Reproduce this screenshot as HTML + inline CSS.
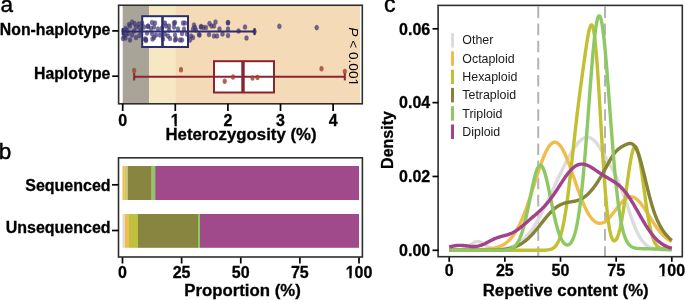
<!DOCTYPE html>
<html><head><meta charset="utf-8"><style>
html,body{margin:0;padding:0;background:#fff;}
svg{display:block;font-family:"Liberation Sans", sans-serif;will-change:transform;}
</style></head><body>
<svg width="685" height="300" viewBox="0 0 685 300">
<rect x="118.5" y="5.5" width="244" height="98" fill="#fff"/>
<rect x="122.70" y="5.5" width="26.30" height="98" fill="#a8a598"/>
<rect x="149.00" y="5.5" width="26.30" height="98" fill="#f5e8c3"/>
<rect x="175.30" y="5.5" width="184.70" height="98" fill="#f5dab8"/>
<rect x="142.2" y="16.2" width="45.80000000000001" height="30.8" fill="#fff"/>
<ellipse cx="132.0" cy="22.0" rx="2.0" ry="2.6" fill="#3f3472" fill-opacity="0.72" stroke="#3f3472" stroke-opacity="0.35" stroke-width="0.7"/>
<ellipse cx="134.5" cy="23.5" rx="2.0" ry="2.6" fill="#3f3472" fill-opacity="0.72" stroke="#3f3472" stroke-opacity="0.35" stroke-width="0.7"/>
<ellipse cx="138.5" cy="24.0" rx="2.0" ry="2.6" fill="#3f3472" fill-opacity="0.72" stroke="#3f3472" stroke-opacity="0.35" stroke-width="0.7"/>
<ellipse cx="130.0" cy="26.0" rx="2.0" ry="2.6" fill="#3f3472" fill-opacity="0.72" stroke="#3f3472" stroke-opacity="0.35" stroke-width="0.7"/>
<ellipse cx="136.0" cy="27.0" rx="2.0" ry="2.6" fill="#3f3472" fill-opacity="0.72" stroke="#3f3472" stroke-opacity="0.35" stroke-width="0.7"/>
<ellipse cx="139.5" cy="27.5" rx="2.0" ry="2.6" fill="#3f3472" fill-opacity="0.72" stroke="#3f3472" stroke-opacity="0.35" stroke-width="0.7"/>
<ellipse cx="125.5" cy="28.5" rx="2.0" ry="2.6" fill="#3f3472" fill-opacity="0.72" stroke="#3f3472" stroke-opacity="0.35" stroke-width="0.7"/>
<ellipse cx="123.5" cy="31.0" rx="2.0" ry="2.6" fill="#3f3472" fill-opacity="0.72" stroke="#3f3472" stroke-opacity="0.35" stroke-width="0.7"/>
<ellipse cx="128.0" cy="33.5" rx="2.0" ry="2.6" fill="#3f3472" fill-opacity="0.72" stroke="#3f3472" stroke-opacity="0.35" stroke-width="0.7"/>
<ellipse cx="124.0" cy="36.0" rx="2.0" ry="2.6" fill="#3f3472" fill-opacity="0.72" stroke="#3f3472" stroke-opacity="0.35" stroke-width="0.7"/>
<ellipse cx="123.0" cy="38.5" rx="2.0" ry="2.6" fill="#3f3472" fill-opacity="0.72" stroke="#3f3472" stroke-opacity="0.35" stroke-width="0.7"/>
<ellipse cx="125.5" cy="38.0" rx="2.0" ry="2.6" fill="#3f3472" fill-opacity="0.72" stroke="#3f3472" stroke-opacity="0.35" stroke-width="0.7"/>
<ellipse cx="130.0" cy="40.0" rx="2.0" ry="2.6" fill="#3f3472" fill-opacity="0.72" stroke="#3f3472" stroke-opacity="0.35" stroke-width="0.7"/>
<ellipse cx="136.0" cy="37.5" rx="2.0" ry="2.6" fill="#3f3472" fill-opacity="0.72" stroke="#3f3472" stroke-opacity="0.35" stroke-width="0.7"/>
<ellipse cx="132.0" cy="35.0" rx="2.0" ry="2.6" fill="#3f3472" fill-opacity="0.72" stroke="#3f3472" stroke-opacity="0.35" stroke-width="0.7"/>
<ellipse cx="139.5" cy="35.5" rx="2.0" ry="2.6" fill="#3f3472" fill-opacity="0.72" stroke="#3f3472" stroke-opacity="0.35" stroke-width="0.7"/>
<ellipse cx="145.0" cy="39.0" rx="2.0" ry="2.6" fill="#3f3472" fill-opacity="0.72" stroke="#3f3472" stroke-opacity="0.35" stroke-width="0.7"/>
<ellipse cx="146.0" cy="40.5" rx="2.0" ry="2.6" fill="#3f3472" fill-opacity="0.72" stroke="#3f3472" stroke-opacity="0.35" stroke-width="0.7"/>
<ellipse cx="144.0" cy="27.0" rx="2.0" ry="2.6" fill="#3f3472" fill-opacity="0.72" stroke="#3f3472" stroke-opacity="0.35" stroke-width="0.7"/>
<ellipse cx="148.0" cy="26.0" rx="2.0" ry="2.6" fill="#3f3472" fill-opacity="0.72" stroke="#3f3472" stroke-opacity="0.35" stroke-width="0.7"/>
<ellipse cx="141.0" cy="31.0" rx="2.0" ry="2.6" fill="#3f3472" fill-opacity="0.72" stroke="#3f3472" stroke-opacity="0.35" stroke-width="0.7"/>
<ellipse cx="127.0" cy="30.0" rx="2.0" ry="2.6" fill="#3f3472" fill-opacity="0.72" stroke="#3f3472" stroke-opacity="0.35" stroke-width="0.7"/>
<ellipse cx="134.0" cy="31.0" rx="2.0" ry="2.6" fill="#3f3472" fill-opacity="0.72" stroke="#3f3472" stroke-opacity="0.35" stroke-width="0.7"/>
<ellipse cx="129.0" cy="24.5" rx="2.0" ry="2.6" fill="#3f3472" fill-opacity="0.72" stroke="#3f3472" stroke-opacity="0.35" stroke-width="0.7"/>
<ellipse cx="142.0" cy="23.0" rx="2.0" ry="2.6" fill="#3f3472" fill-opacity="0.72" stroke="#3f3472" stroke-opacity="0.35" stroke-width="0.7"/>
<ellipse cx="126.0" cy="34.0" rx="2.0" ry="2.6" fill="#3f3472" fill-opacity="0.72" stroke="#3f3472" stroke-opacity="0.35" stroke-width="0.7"/>
<ellipse cx="152.0" cy="22.5" rx="2.0" ry="2.6" fill="#3f3472" fill-opacity="0.72" stroke="#3f3472" stroke-opacity="0.35" stroke-width="0.7"/>
<ellipse cx="155.0" cy="23.0" rx="2.0" ry="2.6" fill="#3f3472" fill-opacity="0.72" stroke="#3f3472" stroke-opacity="0.35" stroke-width="0.7"/>
<ellipse cx="148.0" cy="26.5" rx="2.0" ry="2.6" fill="#3f3472" fill-opacity="0.72" stroke="#3f3472" stroke-opacity="0.35" stroke-width="0.7"/>
<ellipse cx="154.0" cy="27.0" rx="2.0" ry="2.6" fill="#3f3472" fill-opacity="0.72" stroke="#3f3472" stroke-opacity="0.35" stroke-width="0.7"/>
<ellipse cx="151.0" cy="28.5" rx="2.0" ry="2.6" fill="#3f3472" fill-opacity="0.72" stroke="#3f3472" stroke-opacity="0.35" stroke-width="0.7"/>
<ellipse cx="158.0" cy="29.0" rx="2.0" ry="2.6" fill="#3f3472" fill-opacity="0.72" stroke="#3f3472" stroke-opacity="0.35" stroke-width="0.7"/>
<ellipse cx="147.0" cy="33.0" rx="2.0" ry="2.6" fill="#3f3472" fill-opacity="0.72" stroke="#3f3472" stroke-opacity="0.35" stroke-width="0.7"/>
<ellipse cx="152.0" cy="33.5" rx="2.0" ry="2.6" fill="#3f3472" fill-opacity="0.72" stroke="#3f3472" stroke-opacity="0.35" stroke-width="0.7"/>
<ellipse cx="156.0" cy="35.0" rx="2.0" ry="2.6" fill="#3f3472" fill-opacity="0.72" stroke="#3f3472" stroke-opacity="0.35" stroke-width="0.7"/>
<ellipse cx="154.0" cy="37.5" rx="2.0" ry="2.6" fill="#3f3472" fill-opacity="0.72" stroke="#3f3472" stroke-opacity="0.35" stroke-width="0.7"/>
<ellipse cx="152.5" cy="39.0" rx="2.0" ry="2.6" fill="#3f3472" fill-opacity="0.72" stroke="#3f3472" stroke-opacity="0.35" stroke-width="0.7"/>
<ellipse cx="146.0" cy="39.5" rx="2.0" ry="2.6" fill="#3f3472" fill-opacity="0.72" stroke="#3f3472" stroke-opacity="0.35" stroke-width="0.7"/>
<ellipse cx="165.0" cy="23.0" rx="2.0" ry="2.6" fill="#3f3472" fill-opacity="0.72" stroke="#3f3472" stroke-opacity="0.35" stroke-width="0.7"/>
<ellipse cx="166.0" cy="26.0" rx="2.0" ry="2.6" fill="#3f3472" fill-opacity="0.72" stroke="#3f3472" stroke-opacity="0.35" stroke-width="0.7"/>
<ellipse cx="169.0" cy="26.0" rx="2.0" ry="2.6" fill="#3f3472" fill-opacity="0.72" stroke="#3f3472" stroke-opacity="0.35" stroke-width="0.7"/>
<ellipse cx="174.0" cy="23.0" rx="2.0" ry="2.6" fill="#3f3472" fill-opacity="0.72" stroke="#3f3472" stroke-opacity="0.35" stroke-width="0.7"/>
<ellipse cx="174.0" cy="27.0" rx="2.0" ry="2.6" fill="#3f3472" fill-opacity="0.72" stroke="#3f3472" stroke-opacity="0.35" stroke-width="0.7"/>
<ellipse cx="169.0" cy="30.0" rx="2.0" ry="2.6" fill="#3f3472" fill-opacity="0.72" stroke="#3f3472" stroke-opacity="0.35" stroke-width="0.7"/>
<ellipse cx="165.0" cy="34.0" rx="2.0" ry="2.6" fill="#3f3472" fill-opacity="0.72" stroke="#3f3472" stroke-opacity="0.35" stroke-width="0.7"/>
<ellipse cx="168.0" cy="36.0" rx="2.0" ry="2.6" fill="#3f3472" fill-opacity="0.72" stroke="#3f3472" stroke-opacity="0.35" stroke-width="0.7"/>
<ellipse cx="170.0" cy="38.5" rx="2.0" ry="2.6" fill="#3f3472" fill-opacity="0.72" stroke="#3f3472" stroke-opacity="0.35" stroke-width="0.7"/>
<ellipse cx="175.0" cy="40.0" rx="2.0" ry="2.6" fill="#3f3472" fill-opacity="0.72" stroke="#3f3472" stroke-opacity="0.35" stroke-width="0.7"/>
<ellipse cx="162.0" cy="28.0" rx="2.0" ry="2.6" fill="#3f3472" fill-opacity="0.72" stroke="#3f3472" stroke-opacity="0.35" stroke-width="0.7"/>
<ellipse cx="160.0" cy="35.0" rx="2.0" ry="2.6" fill="#3f3472" fill-opacity="0.72" stroke="#3f3472" stroke-opacity="0.35" stroke-width="0.7"/>
<ellipse cx="163.0" cy="39.0" rx="2.0" ry="2.6" fill="#3f3472" fill-opacity="0.72" stroke="#3f3472" stroke-opacity="0.35" stroke-width="0.7"/>
<ellipse cx="175.0" cy="22.5" rx="2.0" ry="2.6" fill="#3f3472" fill-opacity="0.72" stroke="#3f3472" stroke-opacity="0.35" stroke-width="0.7"/>
<ellipse cx="183.0" cy="23.0" rx="2.0" ry="2.6" fill="#3f3472" fill-opacity="0.72" stroke="#3f3472" stroke-opacity="0.35" stroke-width="0.7"/>
<ellipse cx="185.0" cy="23.0" rx="2.0" ry="2.6" fill="#3f3472" fill-opacity="0.72" stroke="#3f3472" stroke-opacity="0.35" stroke-width="0.7"/>
<ellipse cx="184.0" cy="29.0" rx="2.0" ry="2.6" fill="#3f3472" fill-opacity="0.72" stroke="#3f3472" stroke-opacity="0.35" stroke-width="0.7"/>
<ellipse cx="175.0" cy="35.0" rx="2.0" ry="2.6" fill="#3f3472" fill-opacity="0.72" stroke="#3f3472" stroke-opacity="0.35" stroke-width="0.7"/>
<ellipse cx="176.0" cy="39.0" rx="2.0" ry="2.6" fill="#3f3472" fill-opacity="0.72" stroke="#3f3472" stroke-opacity="0.35" stroke-width="0.7"/>
<ellipse cx="180.0" cy="40.0" rx="2.0" ry="2.6" fill="#3f3472" fill-opacity="0.72" stroke="#3f3472" stroke-opacity="0.35" stroke-width="0.7"/>
<ellipse cx="182.0" cy="40.0" rx="2.0" ry="2.6" fill="#3f3472" fill-opacity="0.72" stroke="#3f3472" stroke-opacity="0.35" stroke-width="0.7"/>
<ellipse cx="182.0" cy="33.5" rx="2.0" ry="2.6" fill="#3f3472" fill-opacity="0.72" stroke="#3f3472" stroke-opacity="0.35" stroke-width="0.7"/>
<ellipse cx="187.0" cy="34.0" rx="2.0" ry="2.6" fill="#3f3472" fill-opacity="0.72" stroke="#3f3472" stroke-opacity="0.35" stroke-width="0.7"/>
<ellipse cx="191.0" cy="36.0" rx="2.0" ry="2.6" fill="#3f3472" fill-opacity="0.72" stroke="#3f3472" stroke-opacity="0.35" stroke-width="0.7"/>
<ellipse cx="193.0" cy="37.5" rx="2.0" ry="2.6" fill="#3f3472" fill-opacity="0.72" stroke="#3f3472" stroke-opacity="0.35" stroke-width="0.7"/>
<ellipse cx="194.0" cy="25.0" rx="2.0" ry="2.6" fill="#3f3472" fill-opacity="0.72" stroke="#3f3472" stroke-opacity="0.35" stroke-width="0.7"/>
<ellipse cx="195.0" cy="27.5" rx="2.0" ry="2.6" fill="#3f3472" fill-opacity="0.72" stroke="#3f3472" stroke-opacity="0.35" stroke-width="0.7"/>
<ellipse cx="193.0" cy="29.0" rx="2.0" ry="2.6" fill="#3f3472" fill-opacity="0.72" stroke="#3f3472" stroke-opacity="0.35" stroke-width="0.7"/>
<ellipse cx="196.0" cy="30.0" rx="2.0" ry="2.6" fill="#3f3472" fill-opacity="0.72" stroke="#3f3472" stroke-opacity="0.35" stroke-width="0.7"/>
<ellipse cx="199.0" cy="34.5" rx="2.0" ry="2.6" fill="#3f3472" fill-opacity="0.72" stroke="#3f3472" stroke-opacity="0.35" stroke-width="0.7"/>
<ellipse cx="201.0" cy="27.0" rx="2.0" ry="2.6" fill="#3f3472" fill-opacity="0.72" stroke="#3f3472" stroke-opacity="0.35" stroke-width="0.7"/>
<ellipse cx="190.0" cy="40.0" rx="2.0" ry="2.6" fill="#3f3472" fill-opacity="0.72" stroke="#3f3472" stroke-opacity="0.35" stroke-width="0.7"/>
<ellipse cx="178.0" cy="29.0" rx="2.0" ry="2.6" fill="#3f3472" fill-opacity="0.72" stroke="#3f3472" stroke-opacity="0.35" stroke-width="0.7"/>
<ellipse cx="201.0" cy="26.5" rx="2.0" ry="2.6" fill="#3f3472" fill-opacity="0.72" stroke="#3f3472" stroke-opacity="0.35" stroke-width="0.7"/>
<ellipse cx="203.5" cy="27.5" rx="2.0" ry="2.6" fill="#3f3472" fill-opacity="0.72" stroke="#3f3472" stroke-opacity="0.35" stroke-width="0.7"/>
<ellipse cx="206.0" cy="27.5" rx="2.0" ry="2.6" fill="#3f3472" fill-opacity="0.72" stroke="#3f3472" stroke-opacity="0.35" stroke-width="0.7"/>
<ellipse cx="209.5" cy="23.5" rx="2.0" ry="2.6" fill="#3f3472" fill-opacity="0.72" stroke="#3f3472" stroke-opacity="0.35" stroke-width="0.7"/>
<ellipse cx="211.5" cy="26.0" rx="2.0" ry="2.6" fill="#3f3472" fill-opacity="0.72" stroke="#3f3472" stroke-opacity="0.35" stroke-width="0.7"/>
<ellipse cx="215.5" cy="22.0" rx="2.0" ry="2.6" fill="#3f3472" fill-opacity="0.72" stroke="#3f3472" stroke-opacity="0.35" stroke-width="0.7"/>
<ellipse cx="214.0" cy="26.0" rx="2.0" ry="2.6" fill="#3f3472" fill-opacity="0.72" stroke="#3f3472" stroke-opacity="0.35" stroke-width="0.7"/>
<ellipse cx="219.5" cy="29.0" rx="2.0" ry="2.6" fill="#3f3472" fill-opacity="0.72" stroke="#3f3472" stroke-opacity="0.35" stroke-width="0.7"/>
<ellipse cx="199.5" cy="35.0" rx="2.0" ry="2.6" fill="#3f3472" fill-opacity="0.72" stroke="#3f3472" stroke-opacity="0.35" stroke-width="0.7"/>
<ellipse cx="209.0" cy="34.5" rx="2.0" ry="2.6" fill="#3f3472" fill-opacity="0.72" stroke="#3f3472" stroke-opacity="0.35" stroke-width="0.7"/>
<ellipse cx="214.0" cy="36.0" rx="2.0" ry="2.6" fill="#3f3472" fill-opacity="0.72" stroke="#3f3472" stroke-opacity="0.35" stroke-width="0.7"/>
<ellipse cx="217.0" cy="36.0" rx="2.0" ry="2.6" fill="#3f3472" fill-opacity="0.72" stroke="#3f3472" stroke-opacity="0.35" stroke-width="0.7"/>
<ellipse cx="222.5" cy="34.0" rx="2.0" ry="2.6" fill="#3f3472" fill-opacity="0.72" stroke="#3f3472" stroke-opacity="0.35" stroke-width="0.7"/>
<ellipse cx="228.0" cy="22.5" rx="2.0" ry="2.6" fill="#3f3472" fill-opacity="0.72" stroke="#3f3472" stroke-opacity="0.35" stroke-width="0.7"/>
<ellipse cx="228.0" cy="22.8" rx="2.0" ry="2.6" fill="#3f3472" fill-opacity="0.72" stroke="#3f3472" stroke-opacity="0.35" stroke-width="0.7"/>
<ellipse cx="228.0" cy="29.0" rx="2.0" ry="2.6" fill="#3f3472" fill-opacity="0.72" stroke="#3f3472" stroke-opacity="0.35" stroke-width="0.7"/>
<ellipse cx="228.0" cy="35.5" rx="2.0" ry="2.6" fill="#3f3472" fill-opacity="0.72" stroke="#3f3472" stroke-opacity="0.35" stroke-width="0.7"/>
<ellipse cx="238.5" cy="31.0" rx="2.0" ry="2.6" fill="#3f3472" fill-opacity="0.72" stroke="#3f3472" stroke-opacity="0.35" stroke-width="0.7"/>
<ellipse cx="245.0" cy="27.0" rx="2.0" ry="2.6" fill="#3f3472" fill-opacity="0.72" stroke="#3f3472" stroke-opacity="0.35" stroke-width="0.7"/>
<ellipse cx="246.5" cy="38.0" rx="2.0" ry="2.6" fill="#3f3472" fill-opacity="0.72" stroke="#3f3472" stroke-opacity="0.35" stroke-width="0.7"/>
<ellipse cx="254.5" cy="31.5" rx="2.0" ry="2.6" fill="#3f3472" fill-opacity="0.72" stroke="#3f3472" stroke-opacity="0.35" stroke-width="0.7"/>
<ellipse cx="279.4" cy="26.3" rx="2.0" ry="2.6" fill="#3f3472" fill-opacity="0.72" stroke="#3f3472" stroke-opacity="0.35" stroke-width="0.7"/>
<ellipse cx="316.7" cy="27.6" rx="2.0" ry="2.6" fill="#3f3472" fill-opacity="0.72" stroke="#3f3472" stroke-opacity="0.35" stroke-width="0.7"/>
<g stroke="#2e2c6e" stroke-width="2" fill="none">
<line x1="122.7" y1="31.6" x2="254.6" y2="31.6"/>
<line x1="122.7" y1="28.1" x2="122.7" y2="35.1"/>
<line x1="254.6" y1="28.1" x2="254.6" y2="35.1"/>
<rect x="142.2" y="16.2" width="45.80000000000001" height="30.8"/>
<line x1="162.5" y1="16.2" x2="162.5" y2="47" stroke-width="2.6"/>
</g>
<rect x="214" y="61.2" width="60" height="31.299999999999997" fill="#fff"/>
<g stroke="#8a2430" stroke-width="2" fill="none">
<line x1="134.2" y1="76.7" x2="344.8" y2="76.7"/>
<line x1="134.2" y1="73.0" x2="134.2" y2="80.4"/>
<line x1="344.8" y1="73.0" x2="344.8" y2="80.4"/>
<rect x="214" y="61.2" width="60" height="31.299999999999997"/>
<line x1="243.0" y1="61.2" x2="243.0" y2="92.5" stroke-width="3.4"/>
</g>
<ellipse cx="134.2" cy="70.6" rx="2.05" ry="2.75" fill="#a3422f" fill-opacity="0.82"/>
<ellipse cx="181" cy="69.7" rx="2.05" ry="2.75" fill="#a3422f" fill-opacity="0.82"/>
<ellipse cx="224.7" cy="81.2" rx="2.05" ry="2.75" fill="#a3422f" fill-opacity="0.82"/>
<ellipse cx="233" cy="77" rx="2.05" ry="2.75" fill="#a3422f" fill-opacity="0.82"/>
<ellipse cx="252.5" cy="78" rx="2.05" ry="2.75" fill="#a3422f" fill-opacity="0.82"/>
<ellipse cx="257.5" cy="77.5" rx="2.05" ry="2.75" fill="#a3422f" fill-opacity="0.82"/>
<ellipse cx="321.5" cy="68.8" rx="2.05" ry="2.75" fill="#a3422f" fill-opacity="0.82"/>
<ellipse cx="344.8" cy="71.5" rx="2.05" ry="2.75" fill="#a3422f" fill-opacity="0.82"/>
<rect x="118.6" y="5.25" width="243.7" height="98.55" fill="none" stroke="#2e2e2e" stroke-width="1.6"/>
<g transform="translate(349.4,27.2) rotate(90)">
<text x="0" y="0" font-size="13.7" font-weight="normal"><tspan font-style="italic">P</tspan> &lt; 0.001</text>
<rect x="51.46" y="-1.37" width="3.40" height="2.42" fill="#f5dab8"/>
<rect x="56.07" y="-1.37" width="2.89" height="2.42" fill="#f5dab8"/>
</g>
<g stroke="#000" stroke-width="1.7">
<line x1="112.2" y1="30.9" x2="118.6" y2="30.9"/><line x1="112.2" y1="76.2" x2="118.6" y2="76.2"/>
<line x1="122.70" y1="103.8" x2="122.70" y2="111"/>
<line x1="175.30" y1="103.8" x2="175.30" y2="111"/>
<line x1="227.90" y1="103.8" x2="227.90" y2="111"/>
<line x1="280.50" y1="103.8" x2="280.50" y2="111"/>
<line x1="333.10" y1="103.8" x2="333.10" y2="111"/>
</g>
<text x="110.4" y="34.6" font-size="15.8" font-weight="bold" text-anchor="end" fill="#000" stroke="#000" stroke-width="0.3" >Non-haplotype</text>
<text x="110.4" y="78.6" font-size="15.8" font-weight="bold" text-anchor="end" fill="#000" stroke="#000" stroke-width="0.3" >Haplotype</text>
<text x="122.7" y="125.8" font-size="16" font-weight="bold" text-anchor="middle" fill="#000" stroke="#000" stroke-width="0.3" >0</text>
<text x="175.3" y="125.8" font-size="16" font-weight="bold" text-anchor="middle" fill="#000" stroke="#000" stroke-width="0.3" >1</text>
<rect x="170.86" y="123.82" width="3.73" height="3.03" fill="#fff"/>
<rect x="176.78" y="123.82" width="3.12" height="3.03" fill="#fff"/>
<text x="227.9" y="125.8" font-size="16" font-weight="bold" text-anchor="middle" fill="#000" stroke="#000" stroke-width="0.3" >2</text>
<text x="280.5" y="125.8" font-size="16" font-weight="bold" text-anchor="middle" fill="#000" stroke="#000" stroke-width="0.3" >3</text>
<text x="333.1" y="125.8" font-size="16" font-weight="bold" text-anchor="middle" fill="#000" stroke="#000" stroke-width="0.3" >4</text>
<text x="241" y="140" font-size="16.8" font-weight="bold" text-anchor="middle" fill="#000" stroke="#000" stroke-width="0.3" >Heterozygosity (%)</text>
<text x="0.5" y="12.0" font-size="22.5" font-weight="normal" text-anchor="start" fill="#000" stroke="#000" stroke-width="0.45">a</text>
<rect x="122.50" y="166" width="2.25" height="34" fill="#f0bd4c"/>
<rect x="124.75" y="166" width="3.00" height="34" fill="#c9c86c"/>
<rect x="127.75" y="166" width="23.95" height="34" fill="#878540"/>
<rect x="151.70" y="166" width="3.50" height="34" fill="#8dc863"/>
<rect x="155.20" y="166" width="203.80" height="34" fill="#a04a8c"/>
<rect x="122.50" y="214" width="2.30" height="33.80000000000001" fill="#dcdce0"/>
<rect x="124.80" y="214" width="4.20" height="33.80000000000001" fill="#f0bd50"/>
<rect x="129.00" y="214" width="9.00" height="33.80000000000001" fill="#c0c040"/>
<rect x="138.00" y="214" width="60.00" height="33.80000000000001" fill="#878540"/>
<rect x="198.00" y="214" width="2.00" height="33.80000000000001" fill="#8dc863"/>
<rect x="200.00" y="214" width="159.00" height="33.80000000000001" fill="#a04a8c"/>
<rect x="118.5" y="157.8" width="243.9" height="99.2" fill="none" stroke="#2e2e2e" stroke-width="1.6"/>
<g stroke="#000" stroke-width="1.7">
<line x1="112" y1="184.8" x2="118.5" y2="184.8"/><line x1="112" y1="230.5" x2="118.5" y2="230.5"/>
<line x1="122.50" y1="257.5" x2="122.50" y2="263.5"/>
<line x1="181.62" y1="257.5" x2="181.62" y2="263.5"/>
<line x1="240.75" y1="257.5" x2="240.75" y2="263.5"/>
<line x1="299.88" y1="257.5" x2="299.88" y2="263.5"/>
<line x1="359.00" y1="257.5" x2="359.00" y2="263.5"/>
</g>
<text x="110.6" y="190.6" font-size="16" font-weight="bold" text-anchor="end" fill="#000" stroke="#000" stroke-width="0.3" >Sequenced</text>
<text x="110.6" y="233.4" font-size="16" font-weight="bold" text-anchor="end" fill="#000" stroke="#000" stroke-width="0.3" >Unsequenced</text>
<text x="122.5" y="278" font-size="16" font-weight="bold" text-anchor="middle" fill="#000" stroke="#000" stroke-width="0.3" >0</text>
<text x="181.62" y="278" font-size="16" font-weight="bold" text-anchor="middle" fill="#000" stroke="#000" stroke-width="0.3" >25</text>
<text x="240.75" y="278" font-size="16" font-weight="bold" text-anchor="middle" fill="#000" stroke="#000" stroke-width="0.3" >50</text>
<text x="299.88" y="278" font-size="16" font-weight="bold" text-anchor="middle" fill="#000" stroke="#000" stroke-width="0.3" >75</text>
<text x="359.0" y="278" font-size="16" font-weight="bold" text-anchor="middle" fill="#000" stroke="#000" stroke-width="0.3" >100</text>
<rect x="345.66" y="276.02" width="3.73" height="3.03" fill="#fff"/>
<rect x="351.58" y="276.02" width="3.12" height="3.03" fill="#fff"/>
<text x="242.5" y="296" font-size="16.8" font-weight="bold" text-anchor="middle" fill="#000" stroke="#000" stroke-width="0.3" >Proportion (%)</text>
<text x="-1.2" y="159" font-size="22.5" font-weight="normal" text-anchor="start" fill="#000" stroke="#000" stroke-width="0.45">b</text>
<g stroke="#b4b4b4" stroke-width="2" stroke-dasharray="11.6 5.53">
<line x1="538.24" y1="6.4" x2="538.24" y2="256"/><line x1="605.02" y1="6.4" x2="605.02" y2="256"/>
</g>
<polyline points="449.20,250.29 449.76,250.29 450.31,250.29 450.87,250.28 451.43,250.28 451.98,250.27 452.54,250.26 453.10,250.25 453.65,250.24 454.21,250.23 454.76,250.21 455.32,250.19 455.88,250.16 456.43,250.13 456.99,250.09 457.55,250.04 458.10,249.99 458.66,249.92 459.22,249.85 459.77,249.76 460.33,249.66 460.89,249.55 461.44,249.42 462.00,249.27 462.56,249.11 463.11,248.92 463.67,248.72 464.23,248.49 464.78,248.25 465.34,247.98 465.89,247.69 466.45,247.38 467.01,247.06 467.56,246.71 468.12,246.35 468.68,245.98 469.23,245.60 469.79,245.22 470.35,244.83 470.90,244.44 471.46,244.06 472.02,243.68 472.57,243.33 473.13,242.99 473.69,242.68 474.24,242.40 474.80,242.15 475.36,241.94 475.91,241.77 476.47,241.64 477.02,241.56 477.58,241.52 478.14,241.53 478.69,241.58 479.25,241.69 479.81,241.83 480.36,242.02 480.92,242.24 481.48,242.50 482.03,242.80 482.59,243.11 483.15,243.45 483.70,243.81 484.26,244.18 484.82,244.56 485.37,244.94 485.93,245.32 486.49,245.69 487.04,246.06 487.60,246.41 488.15,246.75 488.71,247.07 489.27,247.37 489.82,247.66 490.38,247.91 490.94,248.15 491.49,248.37 492.05,248.56 492.61,248.73 493.16,248.88 493.72,249.01 494.28,249.12 494.83,249.21 495.39,249.28 495.95,249.34 496.50,249.38 497.06,249.41 497.62,249.42 498.17,249.42 498.73,249.41 499.28,249.39 499.84,249.37 500.40,249.33 500.95,249.28 501.51,249.23 502.07,249.16 502.62,249.09 503.18,249.02 503.74,248.93 504.29,248.84 504.85,248.74 505.41,248.64 505.96,248.52 506.52,248.40 507.08,248.27 507.63,248.14 508.19,247.99 508.75,247.84 509.30,247.68 509.86,247.51 510.41,247.33 510.97,247.14 511.53,246.94 512.08,246.73 512.64,246.51 513.20,246.28 513.75,246.03 514.31,245.78 514.87,245.51 515.42,245.23 515.98,244.94 516.54,244.63 517.09,244.31 517.65,243.97 518.21,243.62 518.76,243.26 519.32,242.88 519.88,242.49 520.43,242.07 520.99,241.65 521.54,241.20 522.10,240.74 522.66,240.27 523.21,239.77 523.77,239.26 524.33,238.73 524.88,238.18 525.44,237.62 526.00,237.03 526.55,236.43 527.11,235.81 527.67,235.17 528.22,234.51 528.78,233.83 529.34,233.13 529.89,232.41 530.45,231.68 531.01,230.92 531.56,230.15 532.12,229.36 532.67,228.55 533.23,227.72 533.79,226.87 534.34,226.01 534.90,225.13 535.46,224.23 536.01,223.31 536.57,222.37 537.13,221.42 537.68,220.46 538.24,219.47 538.80,218.48 539.35,217.46 539.91,216.44 540.47,215.40 541.02,214.34 541.58,213.27 542.14,212.19 542.69,211.10 543.25,210.00 543.80,208.89 544.36,207.76 544.92,206.63 545.47,205.49 546.03,204.34 546.59,203.18 547.14,202.02 547.70,200.85 548.26,199.67 548.81,198.49 549.37,197.30 549.93,196.11 550.48,194.92 551.04,193.72 551.60,192.52 552.15,191.32 552.71,190.12 553.27,188.91 553.82,187.71 554.38,186.51 554.93,185.31 555.49,184.11 556.05,182.91 556.60,181.71 557.16,180.52 557.72,179.33 558.27,178.15 558.83,176.97 559.39,175.79 559.94,174.62 560.50,173.46 561.06,172.30 561.61,171.15 562.17,170.01 562.73,168.87 563.28,167.74 563.84,166.62 564.40,165.51 564.95,164.41 565.51,163.32 566.06,162.24 566.62,161.18 567.18,160.12 567.73,159.08 568.29,158.05 568.85,157.03 569.40,156.03 569.96,155.04 570.52,154.07 571.07,153.12 571.63,152.19 572.19,151.27 572.74,150.37 573.30,149.50 573.86,148.64 574.41,147.81 574.97,147.00 575.53,146.21 576.08,145.45 576.64,144.72 577.19,144.02 577.75,143.34 578.31,142.69 578.86,142.08 579.42,141.49 579.98,140.94 580.53,140.42 581.09,139.94 581.65,139.50 582.20,139.09 582.76,138.72 583.32,138.39 583.87,138.10 584.43,137.85 584.99,137.65 585.54,137.48 586.10,137.36 586.66,137.29 587.21,137.26 587.77,137.27 588.32,137.33 588.88,137.43 589.44,137.58 589.99,137.78 590.55,138.02 591.11,138.30 591.66,138.63 592.22,139.01 592.78,139.42 593.33,139.88 593.89,140.38 594.45,140.92 595.00,141.50 595.56,142.11 596.12,142.76 596.67,143.44 597.23,144.16 597.79,144.90 598.34,145.68 598.90,146.47 599.45,147.30 600.01,148.14 600.57,149.00 601.12,149.88 601.68,150.78 602.24,151.69 602.79,152.61 603.35,153.54 603.91,154.48 604.46,155.42 605.02,156.37 605.58,157.33 606.13,158.28 606.69,159.25 607.25,160.21 607.80,161.17 608.36,162.14 608.92,163.11 609.47,164.09 610.03,165.07 610.58,166.05 611.14,167.04 611.70,168.04 612.25,169.05 612.81,170.08 613.37,171.11 613.92,172.17 614.48,173.24 615.04,174.33 615.59,175.44 616.15,176.58 616.71,177.74 617.26,178.94 617.82,180.16 618.38,181.41 618.93,182.70 619.49,184.02 620.05,185.37 620.60,186.76 621.16,188.17 621.71,189.62 622.27,191.11 622.83,192.62 623.38,194.16 623.94,195.73 624.50,197.32 625.05,198.93 625.61,200.56 626.17,202.20 626.72,203.86 627.28,205.52 627.84,207.19 628.39,208.85 628.95,210.51 629.51,212.17 630.06,213.81 630.62,215.43 631.18,217.03 631.73,218.61 632.29,220.16 632.84,221.68 633.40,223.17 633.96,224.61 634.51,226.02 635.07,227.39 635.63,228.71 636.18,229.99 636.74,231.22 637.30,232.40 637.85,233.53 638.41,234.62 638.97,235.65 639.52,236.63 640.08,237.57 640.64,238.45 641.19,239.29 641.75,240.08 642.31,240.83 642.86,241.53 643.42,242.19 643.97,242.81 644.53,243.38 645.09,243.92 645.64,244.42 646.20,244.89 646.76,245.32 647.31,245.72 647.87,246.10 648.43,246.44 648.98,246.76 649.54,247.06 650.10,247.33 650.65,247.58 651.21,247.81 651.77,248.02 652.32,248.21 652.88,248.39 653.44,248.56 653.99,248.71 654.55,248.84 655.10,248.97 655.66,249.09 656.22,249.19 656.77,249.29 657.33,249.38 657.89,249.46 658.44,249.53 659.00,249.60 659.56,249.66 660.11,249.72 660.67,249.77 661.23,249.82 661.78,249.86 662.34,249.90 662.90,249.94 663.45,249.97 664.01,250.00 664.57,250.03 665.12,250.05 665.68,250.08 666.23,250.10 666.79,250.11 667.35,250.13 667.90,250.15 668.46,250.16 669.02,250.18 669.57,250.19 670.13,250.20 670.69,250.21 671.24,250.22 671.80,250.23" fill="none" stroke="#dcdcdc" stroke-width="3.4" stroke-linejoin="round"/>
<polyline points="449.20,250.19 449.76,250.18 450.31,250.18 450.87,250.17 451.43,250.17 451.98,250.17 452.54,250.16 453.10,250.16 453.65,250.15 454.21,250.15 454.76,250.14 455.32,250.14 455.88,250.13 456.43,250.13 456.99,250.12 457.55,250.12 458.10,250.11 458.66,250.11 459.22,250.10 459.77,250.10 460.33,250.09 460.89,250.08 461.44,250.08 462.00,250.07 462.56,250.06 463.11,250.06 463.67,250.05 464.23,250.04 464.78,250.03 465.34,250.02 465.89,250.02 466.45,250.01 467.01,250.00 467.56,249.99 468.12,249.98 468.68,249.97 469.23,249.96 469.79,249.95 470.35,249.94 470.90,249.92 471.46,249.91 472.02,249.90 472.57,249.89 473.13,249.87 473.69,249.86 474.24,249.84 474.80,249.83 475.36,249.81 475.91,249.79 476.47,249.78 477.02,249.76 477.58,249.74 478.14,249.72 478.69,249.69 479.25,249.67 479.81,249.65 480.36,249.62 480.92,249.59 481.48,249.56 482.03,249.53 482.59,249.50 483.15,249.47 483.70,249.43 484.26,249.39 484.82,249.35 485.37,249.31 485.93,249.26 486.49,249.21 487.04,249.16 487.60,249.10 488.15,249.04 488.71,248.98 489.27,248.91 489.82,248.84 490.38,248.76 490.94,248.68 491.49,248.60 492.05,248.50 492.61,248.40 493.16,248.30 493.72,248.19 494.28,248.07 494.83,247.94 495.39,247.81 495.95,247.66 496.50,247.51 497.06,247.35 497.62,247.18 498.17,246.99 498.73,246.80 499.28,246.59 499.84,246.37 500.40,246.14 500.95,245.90 501.51,245.64 502.07,245.36 502.62,245.07 503.18,244.76 503.74,244.43 504.29,244.09 504.85,243.73 505.41,243.35 505.96,242.94 506.52,242.52 507.08,242.07 507.63,241.61 508.19,241.11 508.75,240.60 509.30,240.05 509.86,239.49 510.41,238.89 510.97,238.27 511.53,237.62 512.08,236.94 512.64,236.23 513.20,235.49 513.75,234.72 514.31,233.91 514.87,233.08 515.42,232.21 515.98,231.31 516.54,230.38 517.09,229.41 517.65,228.40 518.21,227.37 518.76,226.29 519.32,225.18 519.88,224.04 520.43,222.86 520.99,221.65 521.54,220.40 522.10,219.12 522.66,217.81 523.21,216.46 523.77,215.08 524.33,213.66 524.88,212.22 525.44,210.74 526.00,209.23 526.55,207.70 527.11,206.14 527.67,204.55 528.22,202.93 528.78,201.30 529.34,199.64 529.89,197.96 530.45,196.27 531.01,194.56 531.56,192.83 532.12,191.10 532.67,189.35 533.23,187.60 533.79,185.84 534.34,184.08 534.90,182.32 535.46,180.57 536.01,178.82 536.57,177.08 537.13,175.34 537.68,173.63 538.24,171.93 538.80,170.25 539.35,168.59 539.91,166.96 540.47,165.36 541.02,163.79 541.58,162.26 542.14,160.76 542.69,159.30 543.25,157.89 543.80,156.52 544.36,155.20 544.92,153.93 545.47,152.72 546.03,151.56 546.59,150.46 547.14,149.42 547.70,148.45 548.26,147.54 548.81,146.69 549.37,145.92 549.93,145.21 550.48,144.58 551.04,144.02 551.60,143.54 552.15,143.12 552.71,142.79 553.27,142.53 553.82,142.35 554.38,142.24 554.93,142.21 555.49,142.26 556.05,142.39 556.60,142.59 557.16,142.87 557.72,143.22 558.27,143.65 558.83,144.15 559.39,144.72 559.94,145.37 560.50,146.08 561.06,146.85 561.61,147.70 562.17,148.60 562.73,149.57 563.28,150.59 563.84,151.68 564.40,152.81 564.95,154.00 565.51,155.23 566.06,156.52 566.62,157.84 567.18,159.21 567.73,160.61 568.29,162.04 568.85,163.51 569.40,165.01 569.96,166.53 570.52,168.08 571.07,169.64 571.63,171.22 572.19,172.82 572.74,174.42 573.30,176.04 573.86,177.65 574.41,179.27 574.97,180.89 575.53,182.51 576.08,184.12 576.64,185.72 577.19,187.31 577.75,188.88 578.31,190.44 578.86,191.98 579.42,193.50 579.98,195.00 580.53,196.47 581.09,197.92 581.65,199.34 582.20,200.73 582.76,202.08 583.32,203.40 583.87,204.69 584.43,205.94 584.99,207.16 585.54,208.33 586.10,209.47 586.66,210.56 587.21,211.62 587.77,212.63 588.32,213.59 588.88,214.52 589.44,215.39 589.99,216.23 590.55,217.02 591.11,217.76 591.66,218.45 592.22,219.10 592.78,219.70 593.33,220.26 593.89,220.77 594.45,221.23 595.00,221.64 595.56,222.01 596.12,222.33 596.67,222.61 597.23,222.83 597.79,223.02 598.34,223.16 598.90,223.25 599.45,223.30 600.01,223.30 600.57,223.26 601.12,223.18 601.68,223.06 602.24,222.90 602.79,222.69 603.35,222.45 603.91,222.17 604.46,221.85 605.02,221.50 605.58,221.11 606.13,220.69 606.69,220.23 607.25,219.75 607.80,219.24 608.36,218.69 608.92,218.13 609.47,217.54 610.03,216.92 610.58,216.28 611.14,215.63 611.70,214.96 612.25,214.27 612.81,213.57 613.37,212.86 613.92,212.14 614.48,211.41 615.04,210.68 615.59,209.94 616.15,209.21 616.71,208.47 617.26,207.74 617.82,207.02 618.38,206.30 618.93,205.60 619.49,204.91 620.05,204.23 620.60,203.57 621.16,202.94 621.71,202.32 622.27,201.73 622.83,201.16 623.38,200.62 623.94,200.11 624.50,199.63 625.05,199.19 625.61,198.78 626.17,198.40 626.72,198.07 627.28,197.77 627.84,197.51 628.39,197.29 628.95,197.12 629.51,196.99 630.06,196.90 630.62,196.85 631.18,196.85 631.73,196.89 632.29,196.98 632.84,197.11 633.40,197.29 633.96,197.51 634.51,197.77 635.07,198.07 635.63,198.42 636.18,198.81 636.74,199.24 637.30,199.70 637.85,200.21 638.41,200.75 638.97,201.32 639.52,201.93 640.08,202.57 640.64,203.24 641.19,203.94 641.75,204.67 642.31,205.42 642.86,206.19 643.42,206.99 643.97,207.80 644.53,208.63 645.09,209.48 645.64,210.34 646.20,211.21 646.76,212.09 647.31,212.98 647.87,213.87 648.43,214.77 648.98,215.67 649.54,216.57 650.10,217.47 650.65,218.37 651.21,219.26 651.77,220.14 652.32,221.02 652.88,221.89 653.44,222.75 653.99,223.59 654.55,224.43 655.10,225.25 655.66,226.06 656.22,226.85 656.77,227.62 657.33,228.38 657.89,229.12 658.44,229.85 659.00,230.55 659.56,231.24 660.11,231.90 660.67,232.55 661.23,233.18 661.78,233.79 662.34,234.38 662.90,234.95 663.45,235.50 664.01,236.03 664.57,236.54 665.12,237.03 665.68,237.51 666.23,237.96 666.79,238.40 667.35,238.82 667.90,239.22 668.46,239.61 669.02,239.98 669.57,240.33 670.13,240.67 670.69,240.99 671.24,241.30 671.80,241.59" fill="none" stroke="#f0bd4c" stroke-width="3.4" stroke-linejoin="round"/>
<polyline points="449.20,250.30 449.76,250.30 450.31,250.30 450.87,250.30 451.43,250.30 451.98,250.30 452.54,250.30 453.10,250.30 453.65,250.30 454.21,250.30 454.76,250.30 455.32,250.30 455.88,250.30 456.43,250.30 456.99,250.30 457.55,250.30 458.10,250.30 458.66,250.30 459.22,250.30 459.77,250.30 460.33,250.30 460.89,250.30 461.44,250.30 462.00,250.30 462.56,250.30 463.11,250.30 463.67,250.30 464.23,250.30 464.78,250.30 465.34,250.30 465.89,250.30 466.45,250.30 467.01,250.30 467.56,250.30 468.12,250.30 468.68,250.30 469.23,250.30 469.79,250.30 470.35,250.30 470.90,250.30 471.46,250.30 472.02,250.30 472.57,250.30 473.13,250.30 473.69,250.30 474.24,250.30 474.80,250.30 475.36,250.30 475.91,250.30 476.47,250.30 477.02,250.30 477.58,250.30 478.14,250.30 478.69,250.30 479.25,250.30 479.81,250.30 480.36,250.30 480.92,250.30 481.48,250.30 482.03,250.30 482.59,250.30 483.15,250.30 483.70,250.30 484.26,250.30 484.82,250.30 485.37,250.30 485.93,250.30 486.49,250.30 487.04,250.30 487.60,250.30 488.15,250.30 488.71,250.30 489.27,250.30 489.82,250.30 490.38,250.30 490.94,250.30 491.49,250.30 492.05,250.30 492.61,250.30 493.16,250.30 493.72,250.30 494.28,250.30 494.83,250.30 495.39,250.30 495.95,250.30 496.50,250.30 497.06,250.30 497.62,250.30 498.17,250.30 498.73,250.30 499.28,250.30 499.84,250.30 500.40,250.30 500.95,250.30 501.51,250.30 502.07,250.30 502.62,250.30 503.18,250.30 503.74,250.30 504.29,250.30 504.85,250.30 505.41,250.30 505.96,250.30 506.52,250.30 507.08,250.30 507.63,250.30 508.19,250.30 508.75,250.30 509.30,250.30 509.86,250.30 510.41,250.30 510.97,250.30 511.53,250.30 512.08,250.30 512.64,250.30 513.20,250.30 513.75,250.30 514.31,250.30 514.87,250.30 515.42,250.30 515.98,250.30 516.54,250.30 517.09,250.30 517.65,250.30 518.21,250.30 518.76,250.30 519.32,250.30 519.88,250.30 520.43,250.30 520.99,250.30 521.54,250.30 522.10,250.30 522.66,250.30 523.21,250.30 523.77,250.30 524.33,250.30 524.88,250.30 525.44,250.30 526.00,250.30 526.55,250.30 527.11,250.30 527.67,250.30 528.22,250.30 528.78,250.30 529.34,250.30 529.89,250.30 530.45,250.30 531.01,250.30 531.56,250.30 532.12,250.30 532.67,250.30 533.23,250.30 533.79,250.30 534.34,250.30 534.90,250.30 535.46,250.30 536.01,250.30 536.57,250.30 537.13,250.30 537.68,250.29 538.24,250.29 538.80,250.29 539.35,250.29 539.91,250.28 540.47,250.28 541.02,250.27 541.58,250.27 542.14,250.26 542.69,250.25 543.25,250.23 543.80,250.21 544.36,250.19 544.92,250.17 545.47,250.14 546.03,250.10 546.59,250.05 547.14,250.00 547.70,249.93 548.26,249.85 548.81,249.76 549.37,249.64 549.93,249.51 550.48,249.35 551.04,249.17 551.60,248.95 552.15,248.69 552.71,248.40 553.27,248.05 553.82,247.66 554.38,247.20 554.93,246.67 555.49,246.08 556.05,245.39 556.60,244.62 557.16,243.75 557.72,242.76 558.27,241.66 558.83,240.43 559.39,239.06 559.94,237.54 560.50,235.86 561.06,234.02 561.61,232.00 562.17,229.80 562.73,227.40 563.28,224.81 563.84,222.02 564.40,219.02 564.95,215.82 565.51,212.42 566.06,208.81 566.62,205.00 567.18,201.00 567.73,196.82 568.29,192.47 568.85,187.95 569.40,183.30 569.96,178.51 570.52,173.62 571.07,168.64 571.63,163.60 572.19,158.51 572.74,153.39 573.30,148.27 573.86,143.17 574.41,138.10 574.97,133.09 575.53,128.15 576.08,123.28 576.64,118.50 577.19,113.82 577.75,109.23 578.31,104.74 578.86,100.34 579.42,96.03 579.98,91.78 580.53,87.61 581.09,83.48 581.65,79.39 582.20,75.33 582.76,71.30 583.32,67.28 583.87,63.27 584.43,59.30 584.99,55.35 585.54,51.46 586.10,47.66 586.66,43.97 587.21,40.44 587.77,37.11 588.32,34.06 588.88,31.33 589.44,28.99 589.99,27.11 590.55,25.75 591.11,24.98 591.66,24.86 592.22,25.44 592.78,26.76 593.33,28.86 593.89,31.76 594.45,35.46 595.00,39.97 595.56,45.26 596.12,51.30 596.67,58.04 597.23,65.41 597.79,73.36 598.34,81.78 598.90,90.61 599.45,99.74 600.01,109.08 600.57,118.52 601.12,127.99 601.68,137.37 602.24,146.59 602.79,155.57 603.35,164.24 603.91,172.53 604.46,180.40 605.02,187.81 605.58,194.72 606.13,201.11 606.69,206.99 607.25,212.33 607.80,217.14 608.36,221.45 608.92,225.25 609.47,228.58 610.03,231.45 610.58,233.89 611.14,235.92 611.70,237.58 612.25,238.87 612.81,239.83 613.37,240.48 613.92,240.83 614.48,240.91 615.04,240.72 615.59,240.27 616.15,239.58 616.71,238.65 617.26,237.49 617.82,236.10 618.38,234.48 618.93,232.63 619.49,230.57 620.05,228.28 620.60,225.77 621.16,223.06 621.71,220.13 622.27,217.01 622.83,213.70 623.38,210.21 623.94,206.57 624.50,202.79 625.05,198.89 625.61,194.90 626.17,190.86 626.72,186.78 627.28,182.71 627.84,178.67 628.39,174.72 628.95,170.88 629.51,167.20 630.06,163.71 630.62,160.45 631.18,157.46 631.73,154.78 632.29,152.44 632.84,150.45 633.40,148.86 633.96,147.67 634.51,146.90 635.07,146.57 635.63,146.68 636.18,147.22 636.74,148.18 637.30,149.57 637.85,151.35 638.41,153.51 638.97,156.02 639.52,158.85 640.08,161.97 640.64,165.34 641.19,168.93 641.75,172.69 642.31,176.59 642.86,180.59 643.42,184.65 643.97,188.73 644.53,192.80 645.09,196.83 645.64,200.79 646.20,204.64 646.76,208.37 647.31,211.96 647.87,215.39 648.43,218.64 648.98,221.71 649.54,224.60 650.10,227.28 650.65,229.77 651.21,232.07 651.77,234.17 652.32,236.09 652.88,237.83 653.44,239.39 653.99,240.79 654.55,242.04 655.10,243.14 655.66,244.11 656.22,244.95 656.77,245.67 657.33,246.29 657.89,246.82 658.44,247.25 659.00,247.61 659.56,247.90 660.11,248.13 660.67,248.30 661.23,248.43 661.78,248.52 662.34,248.57 662.90,248.60 663.45,248.60 664.01,248.60 664.57,248.58 665.12,248.56 665.68,248.54 666.23,248.52 666.79,248.51 667.35,248.51 667.90,248.52 668.46,248.55 669.02,248.58 669.57,248.64 670.13,248.70 670.69,248.77 671.24,248.86 671.80,248.95" fill="none" stroke="#c2c032" stroke-width="3.4" stroke-linejoin="round"/>
<polyline points="449.20,250.30 449.76,250.30 450.31,250.30 450.87,250.30 451.43,250.30 451.98,250.30 452.54,250.30 453.10,250.30 453.65,250.30 454.21,250.30 454.76,250.30 455.32,250.30 455.88,250.30 456.43,250.30 456.99,250.30 457.55,250.30 458.10,250.30 458.66,250.30 459.22,250.30 459.77,250.30 460.33,250.30 460.89,250.30 461.44,250.30 462.00,250.30 462.56,250.30 463.11,250.30 463.67,250.30 464.23,250.30 464.78,250.30 465.34,250.30 465.89,250.30 466.45,250.30 467.01,250.30 467.56,250.30 468.12,250.30 468.68,250.30 469.23,250.30 469.79,250.30 470.35,250.30 470.90,250.30 471.46,250.30 472.02,250.30 472.57,250.30 473.13,250.30 473.69,250.30 474.24,250.29 474.80,250.29 475.36,250.29 475.91,250.29 476.47,250.29 477.02,250.29 477.58,250.29 478.14,250.29 478.69,250.29 479.25,250.29 479.81,250.28 480.36,250.28 480.92,250.28 481.48,250.28 482.03,250.27 482.59,250.27 483.15,250.27 483.70,250.27 484.26,250.26 484.82,250.26 485.37,250.25 485.93,250.25 486.49,250.24 487.04,250.24 487.60,250.23 488.15,250.22 488.71,250.22 489.27,250.21 489.82,250.20 490.38,250.19 490.94,250.18 491.49,250.16 492.05,250.15 492.61,250.14 493.16,250.12 493.72,250.11 494.28,250.09 494.83,250.07 495.39,250.05 495.95,250.02 496.50,250.00 497.06,249.97 497.62,249.94 498.17,249.91 498.73,249.88 499.28,249.84 499.84,249.80 500.40,249.76 500.95,249.71 501.51,249.67 502.07,249.61 502.62,249.56 503.18,249.50 503.74,249.44 504.29,249.37 504.85,249.29 505.41,249.22 505.96,249.13 506.52,249.05 507.08,248.95 507.63,248.85 508.19,248.75 508.75,248.64 509.30,248.52 509.86,248.39 510.41,248.26 510.97,248.12 511.53,247.97 512.08,247.81 512.64,247.65 513.20,247.47 513.75,247.29 514.31,247.10 514.87,246.89 515.42,246.68 515.98,246.46 516.54,246.22 517.09,245.98 517.65,245.72 518.21,245.45 518.76,245.17 519.32,244.88 519.88,244.57 520.43,244.26 520.99,243.93 521.54,243.58 522.10,243.23 522.66,242.86 523.21,242.47 523.77,242.08 524.33,241.66 524.88,241.24 525.44,240.80 526.00,240.35 526.55,239.88 527.11,239.40 527.67,238.91 528.22,238.40 528.78,237.88 529.34,237.35 529.89,236.80 530.45,236.24 531.01,235.67 531.56,235.08 532.12,234.49 532.67,233.88 533.23,233.26 533.79,232.63 534.34,231.99 534.90,231.35 535.46,230.69 536.01,230.02 536.57,229.35 537.13,228.67 537.68,227.99 538.24,227.29 538.80,226.60 539.35,225.90 539.91,225.20 540.47,224.49 541.02,223.79 541.58,223.08 542.14,222.37 542.69,221.67 543.25,220.97 543.80,220.27 544.36,219.58 544.92,218.89 545.47,218.20 546.03,217.53 546.59,216.86 547.14,216.20 547.70,215.55 548.26,214.91 548.81,214.28 549.37,213.67 549.93,213.07 550.48,212.48 551.04,211.90 551.60,211.34 552.15,210.80 552.71,210.27 553.27,209.76 553.82,209.26 554.38,208.78 554.93,208.32 555.49,207.88 556.05,207.46 556.60,207.05 557.16,206.66 557.72,206.29 558.27,205.94 558.83,205.61 559.39,205.30 559.94,205.00 560.50,204.72 561.06,204.46 561.61,204.21 562.17,203.98 562.73,203.76 563.28,203.56 563.84,203.38 564.40,203.20 564.95,203.04 565.51,202.89 566.06,202.76 566.62,202.63 567.18,202.51 567.73,202.39 568.29,202.29 568.85,202.19 569.40,202.09 569.96,202.00 570.52,201.91 571.07,201.82 571.63,201.72 572.19,201.63 572.74,201.54 573.30,201.44 573.86,201.33 574.41,201.22 574.97,201.10 575.53,200.97 576.08,200.83 576.64,200.69 577.19,200.53 577.75,200.35 578.31,200.16 578.86,199.96 579.42,199.75 579.98,199.51 580.53,199.26 581.09,198.99 581.65,198.70 582.20,198.40 582.76,198.07 583.32,197.73 583.87,197.36 584.43,196.97 584.99,196.57 585.54,196.14 586.10,195.69 586.66,195.22 587.21,194.73 587.77,194.22 588.32,193.68 588.88,193.13 589.44,192.56 589.99,191.96 590.55,191.35 591.11,190.71 591.66,190.06 592.22,189.39 592.78,188.70 593.33,187.99 593.89,187.26 594.45,186.51 595.00,185.75 595.56,184.97 596.12,184.17 596.67,183.35 597.23,182.52 597.79,181.67 598.34,180.81 598.90,179.93 599.45,179.03 600.01,178.12 600.57,177.19 601.12,176.25 601.68,175.29 602.24,174.32 602.79,173.33 603.35,172.34 603.91,171.33 604.46,170.31 605.02,169.29 605.58,168.26 606.13,167.22 606.69,166.19 607.25,165.15 607.80,164.12 608.36,163.10 608.92,162.09 609.47,161.09 610.03,160.11 610.58,159.15 611.14,158.21 611.70,157.30 612.25,156.42 612.81,155.57 613.37,154.75 613.92,153.97 614.48,153.23 615.04,152.53 615.59,151.87 616.15,151.25 616.71,150.67 617.26,150.12 617.82,149.61 618.38,149.13 618.93,148.68 619.49,148.27 620.05,147.87 620.60,147.50 621.16,147.15 621.71,146.81 622.27,146.49 622.83,146.18 623.38,145.87 623.94,145.58 624.50,145.29 625.05,145.02 625.61,144.75 626.17,144.49 626.72,144.25 627.28,144.03 627.84,143.84 628.39,143.67 628.95,143.55 629.51,143.46 630.06,143.43 630.62,143.46 631.18,143.55 631.73,143.72 632.29,143.97 632.84,144.32 633.40,144.76 633.96,145.31 634.51,145.96 635.07,146.73 635.63,147.62 636.18,148.63 636.74,149.76 637.30,151.01 637.85,152.38 638.41,153.87 638.97,155.47 639.52,157.18 640.08,159.00 640.64,160.90 641.19,162.89 641.75,164.96 642.31,167.10 642.86,169.30 643.42,171.54 643.97,173.83 644.53,176.14 645.09,178.46 645.64,180.80 646.20,183.13 646.76,185.45 647.31,187.74 647.87,190.01 648.43,192.25 648.98,194.44 649.54,196.58 650.10,198.68 650.65,200.71 651.21,202.69 651.77,204.60 652.32,206.45 652.88,208.24 653.44,209.96 653.99,211.61 654.55,213.20 655.10,214.72 655.66,216.19 656.22,217.59 656.77,218.93 657.33,220.21 657.89,221.44 658.44,222.62 659.00,223.75 659.56,224.83 660.11,225.86 660.67,226.85 661.23,227.80 661.78,228.72 662.34,229.59 662.90,230.43 663.45,231.24 664.01,232.02 664.57,232.77 665.12,233.49 665.68,234.18 666.23,234.85 666.79,235.50 667.35,236.12 667.90,236.72 668.46,237.30 669.02,237.85 669.57,238.39 670.13,238.91 670.69,239.41 671.24,239.89 671.80,240.35" fill="none" stroke="#868338" stroke-width="3.4" stroke-linejoin="round"/>
<polyline points="449.20,250.30 449.76,250.30 450.31,250.30 450.87,250.30 451.43,250.30 451.98,250.30 452.54,250.30 453.10,250.30 453.65,250.30 454.21,250.30 454.76,250.30 455.32,250.30 455.88,250.30 456.43,250.30 456.99,250.30 457.55,250.30 458.10,250.30 458.66,250.30 459.22,250.30 459.77,250.30 460.33,250.30 460.89,250.30 461.44,250.30 462.00,250.30 462.56,250.30 463.11,250.30 463.67,250.30 464.23,250.30 464.78,250.30 465.34,250.30 465.89,250.30 466.45,250.30 467.01,250.30 467.56,250.30 468.12,250.30 468.68,250.30 469.23,250.30 469.79,250.30 470.35,250.30 470.90,250.30 471.46,250.30 472.02,250.30 472.57,250.30 473.13,250.30 473.69,250.30 474.24,250.30 474.80,250.30 475.36,250.30 475.91,250.30 476.47,250.30 477.02,250.30 477.58,250.30 478.14,250.30 478.69,250.30 479.25,250.30 479.81,250.30 480.36,250.30 480.92,250.30 481.48,250.30 482.03,250.30 482.59,250.30 483.15,250.30 483.70,250.30 484.26,250.30 484.82,250.30 485.37,250.30 485.93,250.30 486.49,250.30 487.04,250.30 487.60,250.30 488.15,250.30 488.71,250.30 489.27,250.30 489.82,250.30 490.38,250.30 490.94,250.30 491.49,250.30 492.05,250.30 492.61,250.30 493.16,250.30 493.72,250.30 494.28,250.30 494.83,250.29 495.39,250.29 495.95,250.29 496.50,250.29 497.06,250.29 497.62,250.28 498.17,250.28 498.73,250.27 499.28,250.27 499.84,250.26 500.40,250.25 500.95,250.24 501.51,250.22 502.07,250.21 502.62,250.19 503.18,250.16 503.74,250.13 504.29,250.10 504.85,250.06 505.41,250.01 505.96,249.95 506.52,249.88 507.08,249.80 507.63,249.71 508.19,249.60 508.75,249.48 509.30,249.34 509.86,249.17 510.41,248.98 510.97,248.76 511.53,248.51 512.08,248.22 512.64,247.90 513.20,247.53 513.75,247.12 514.31,246.65 514.87,246.13 515.42,245.55 515.98,244.91 516.54,244.19 517.09,243.40 517.65,242.53 518.21,241.58 518.76,240.53 519.32,239.39 519.88,238.16 520.43,236.82 520.99,235.38 521.54,233.83 522.10,232.17 522.66,230.41 523.21,228.54 523.77,226.55 524.33,224.46 524.88,222.27 525.44,219.98 526.00,217.60 526.55,215.13 527.11,212.59 527.67,209.97 528.22,207.30 528.78,204.59 529.34,201.84 529.89,199.07 530.45,196.31 531.01,193.56 531.56,190.84 532.12,188.16 532.67,185.56 533.23,183.04 533.79,180.62 534.34,178.33 534.90,176.17 535.46,174.16 536.01,172.33 536.57,170.69 537.13,169.24 537.68,168.00 538.24,166.99 538.80,166.20 539.35,165.66 539.91,165.35 540.47,165.29 541.02,165.47 541.58,165.90 542.14,166.57 542.69,167.47 543.25,168.59 543.80,169.93 544.36,171.48 544.92,173.22 545.47,175.14 546.03,177.22 546.59,179.45 547.14,181.81 547.70,184.28 548.26,186.84 548.81,189.48 549.37,192.18 549.93,194.92 550.48,197.68 551.04,200.44 551.60,203.20 552.15,205.93 552.71,208.62 553.27,211.26 553.82,213.83 554.38,216.34 554.93,218.75 555.49,221.08 556.05,223.31 556.60,225.44 557.16,227.46 557.72,229.36 558.27,231.16 558.83,232.84 559.39,234.41 559.94,235.86 560.50,237.20 561.06,238.42 561.61,239.54 562.17,240.54 562.73,241.44 563.28,242.24 563.84,242.93 564.40,243.52 564.95,244.00 565.51,244.39 566.06,244.68 566.62,244.87 567.18,244.96 567.73,244.95 568.29,244.83 568.85,244.61 569.40,244.27 569.96,243.81 570.52,243.24 571.07,242.53 571.63,241.68 572.19,240.69 572.74,239.55 573.30,238.24 573.86,236.76 574.41,235.09 574.97,233.22 575.53,231.14 576.08,228.85 576.64,226.32 577.19,223.55 577.75,220.52 578.31,217.24 578.86,213.68 579.42,209.84 579.98,205.71 580.53,201.30 581.09,196.59 581.65,191.59 582.20,186.30 582.76,180.73 583.32,174.87 583.87,168.75 584.43,162.38 584.99,155.77 585.54,148.94 586.10,141.92 586.66,134.74 587.21,127.42 587.77,120.01 588.32,112.53 588.88,105.02 589.44,97.54 589.99,90.11 590.55,82.79 591.11,75.62 591.66,68.65 592.22,61.93 592.78,55.50 593.33,49.42 593.89,43.72 594.45,38.45 595.00,33.65 595.56,29.35 596.12,25.60 596.67,22.42 597.23,19.84 597.79,17.87 598.34,16.54 598.90,15.86 599.45,15.83 600.01,16.45 600.57,17.71 601.12,19.61 601.68,22.13 602.24,25.25 602.79,28.94 603.35,33.18 603.91,37.92 604.46,43.14 605.02,48.79 605.58,54.82 606.13,61.20 606.69,67.88 607.25,74.80 607.80,81.93 608.36,89.21 608.92,96.61 609.47,104.06 610.03,111.53 610.58,118.99 611.14,126.38 611.70,133.67 612.25,140.83 612.81,147.83 613.37,154.64 613.92,161.23 614.48,167.59 615.04,173.70 615.59,179.55 616.15,185.11 616.71,190.40 617.26,195.39 617.82,200.10 618.38,204.51 618.93,208.64 619.49,212.48 620.05,216.05 620.60,219.35 621.16,222.39 621.71,225.18 622.27,227.73 622.83,230.06 623.38,232.18 623.94,234.10 624.50,235.84 625.05,237.39 625.61,238.79 626.17,240.04 626.72,241.16 627.28,242.15 627.84,243.02 628.39,243.80 628.95,244.48 629.51,245.07 630.06,245.59 630.62,246.05 631.18,246.44 631.73,246.78 632.29,247.07 632.84,247.33 633.40,247.54 633.96,247.73 634.51,247.89 635.07,248.02 635.63,248.14 636.18,248.23 636.74,248.32 637.30,248.39 637.85,248.44 638.41,248.49 638.97,248.54 639.52,248.57 640.08,248.60 640.64,248.63 641.19,248.65 641.75,248.67 642.31,248.69 642.86,248.70 643.42,248.72 643.97,248.73 644.53,248.74 645.09,248.76 645.64,248.77 646.20,248.78 646.76,248.79 647.31,248.80 647.87,248.82 648.43,248.83 648.98,248.84 649.54,248.85 650.10,248.87 650.65,248.88 651.21,248.89 651.77,248.91 652.32,248.92 652.88,248.94 653.44,248.95 653.99,248.97 654.55,248.99 655.10,249.00 655.66,249.02 656.22,249.04 656.77,249.05 657.33,249.07 657.89,249.09 658.44,249.11 659.00,249.12 659.56,249.14 660.11,249.16 660.67,249.18 661.23,249.20 661.78,249.22 662.34,249.24 662.90,249.26 663.45,249.28 664.01,249.30 664.57,249.31 665.12,249.33 665.68,249.35 666.23,249.37 666.79,249.39 667.35,249.41 667.90,249.43 668.46,249.45 669.02,249.47 669.57,249.49 670.13,249.51 670.69,249.53 671.24,249.55 671.80,249.56" fill="none" stroke="#8dc863" stroke-width="3.4" stroke-linejoin="round"/>
<polyline points="449.20,247.02 449.76,246.88 450.31,246.74 450.87,246.60 451.43,246.47 451.98,246.34 452.54,246.22 453.10,246.10 453.65,245.99 454.21,245.89 454.76,245.80 455.32,245.71 455.88,245.63 456.43,245.56 456.99,245.50 457.55,245.45 458.10,245.41 458.66,245.38 459.22,245.37 459.77,245.36 460.33,245.36 460.89,245.37 461.44,245.39 462.00,245.42 462.56,245.45 463.11,245.50 463.67,245.55 464.23,245.61 464.78,245.67 465.34,245.74 465.89,245.81 466.45,245.88 467.01,245.95 467.56,246.03 468.12,246.10 468.68,246.17 469.23,246.24 469.79,246.30 470.35,246.36 470.90,246.41 471.46,246.46 472.02,246.49 472.57,246.52 473.13,246.53 473.69,246.53 474.24,246.53 474.80,246.50 475.36,246.47 475.91,246.42 476.47,246.35 477.02,246.28 477.58,246.18 478.14,246.07 478.69,245.95 479.25,245.81 479.81,245.66 480.36,245.49 480.92,245.31 481.48,245.11 482.03,244.90 482.59,244.68 483.15,244.45 483.70,244.20 484.26,243.95 484.82,243.69 485.37,243.41 485.93,243.14 486.49,242.85 487.04,242.56 487.60,242.27 488.15,241.98 488.71,241.68 489.27,241.39 489.82,241.10 490.38,240.80 490.94,240.52 491.49,240.23 492.05,239.95 492.61,239.68 493.16,239.41 493.72,239.15 494.28,238.90 494.83,238.66 495.39,238.43 495.95,238.20 496.50,237.98 497.06,237.77 497.62,237.57 498.17,237.38 498.73,237.20 499.28,237.02 499.84,236.85 500.40,236.69 500.95,236.53 501.51,236.38 502.07,236.23 502.62,236.08 503.18,235.94 503.74,235.79 504.29,235.65 504.85,235.50 505.41,235.35 505.96,235.19 506.52,235.03 507.08,234.87 507.63,234.69 508.19,234.51 508.75,234.32 509.30,234.12 509.86,233.91 510.41,233.69 510.97,233.46 511.53,233.21 512.08,232.95 512.64,232.68 513.20,232.39 513.75,232.10 514.31,231.78 514.87,231.46 515.42,231.12 515.98,230.77 516.54,230.41 517.09,230.03 517.65,229.65 518.21,229.25 518.76,228.84 519.32,228.43 519.88,228.00 520.43,227.57 520.99,227.12 521.54,226.67 522.10,226.22 522.66,225.76 523.21,225.29 523.77,224.82 524.33,224.35 524.88,223.87 525.44,223.39 526.00,222.91 526.55,222.43 527.11,221.94 527.67,221.46 528.22,220.98 528.78,220.49 529.34,220.01 529.89,219.53 530.45,219.04 531.01,218.56 531.56,218.08 532.12,217.60 532.67,217.12 533.23,216.64 533.79,216.16 534.34,215.68 534.90,215.20 535.46,214.71 536.01,214.23 536.57,213.74 537.13,213.25 537.68,212.76 538.24,212.26 538.80,211.76 539.35,211.25 539.91,210.73 540.47,210.21 541.02,209.69 541.58,209.15 542.14,208.60 542.69,208.05 543.25,207.49 543.80,206.91 544.36,206.33 544.92,205.73 545.47,205.12 546.03,204.50 546.59,203.87 547.14,203.22 547.70,202.56 548.26,201.89 548.81,201.20 549.37,200.50 549.93,199.79 550.48,199.06 551.04,198.32 551.60,197.57 552.15,196.81 552.71,196.03 553.27,195.24 553.82,194.44 554.38,193.63 554.93,192.81 555.49,191.98 556.05,191.15 556.60,190.30 557.16,189.45 557.72,188.59 558.27,187.73 558.83,186.87 559.39,186.01 559.94,185.14 560.50,184.28 561.06,183.41 561.61,182.56 562.17,181.70 562.73,180.85 563.28,180.01 563.84,179.18 564.40,178.36 564.95,177.55 565.51,176.75 566.06,175.97 566.62,175.20 567.18,174.45 567.73,173.72 568.29,173.01 568.85,172.32 569.40,171.65 569.96,171.01 570.52,170.39 571.07,169.80 571.63,169.23 572.19,168.69 572.74,168.17 573.30,167.69 573.86,167.23 574.41,166.81 574.97,166.41 575.53,166.05 576.08,165.71 576.64,165.41 577.19,165.14 577.75,164.90 578.31,164.69 578.86,164.52 579.42,164.37 579.98,164.25 580.53,164.17 581.09,164.11 581.65,164.09 582.20,164.09 582.76,164.12 583.32,164.18 583.87,164.26 584.43,164.37 584.99,164.51 585.54,164.66 586.10,164.84 586.66,165.04 587.21,165.26 587.77,165.50 588.32,165.76 588.88,166.03 589.44,166.32 589.99,166.63 590.55,166.94 591.11,167.27 591.66,167.61 592.22,167.96 592.78,168.31 593.33,168.67 593.89,169.04 594.45,169.41 595.00,169.79 595.56,170.17 596.12,170.55 596.67,170.93 597.23,171.31 597.79,171.69 598.34,172.07 598.90,172.45 599.45,172.82 600.01,173.19 600.57,173.56 601.12,173.92 601.68,174.28 602.24,174.64 602.79,174.99 603.35,175.33 603.91,175.68 604.46,176.01 605.02,176.35 605.58,176.68 606.13,177.01 606.69,177.33 607.25,177.66 607.80,177.98 608.36,178.30 608.92,178.62 609.47,178.94 610.03,179.27 610.58,179.59 611.14,179.92 611.70,180.25 612.25,180.59 612.81,180.93 613.37,181.28 613.92,181.64 614.48,182.01 615.04,182.39 615.59,182.77 616.15,183.17 616.71,183.58 617.26,184.01 617.82,184.45 618.38,184.90 618.93,185.37 619.49,185.86 620.05,186.36 620.60,186.88 621.16,187.42 621.71,187.97 622.27,188.55 622.83,189.15 623.38,189.76 623.94,190.39 624.50,191.05 625.05,191.72 625.61,192.42 626.17,193.13 626.72,193.86 627.28,194.61 627.84,195.38 628.39,196.17 628.95,196.98 629.51,197.80 630.06,198.64 630.62,199.50 631.18,200.37 631.73,201.26 632.29,202.16 632.84,203.07 633.40,203.99 633.96,204.93 634.51,205.87 635.07,206.83 635.63,207.79 636.18,208.75 636.74,209.73 637.30,210.70 637.85,211.68 638.41,212.66 638.97,213.64 639.52,214.62 640.08,215.60 640.64,216.58 641.19,217.55 641.75,218.51 642.31,219.47 642.86,220.43 643.42,221.37 643.97,222.31 644.53,223.23 645.09,224.14 645.64,225.05 646.20,225.93 646.76,226.81 647.31,227.67 647.87,228.52 648.43,229.35 648.98,230.16 649.54,230.96 650.10,231.74 650.65,232.50 651.21,233.24 651.77,233.97 652.32,234.67 652.88,235.36 653.44,236.03 653.99,236.68 654.55,237.31 655.10,237.92 655.66,238.51 656.22,239.08 656.77,239.63 657.33,240.17 657.89,240.68 658.44,241.17 659.00,241.65 659.56,242.11 660.11,242.55 660.67,242.97 661.23,243.38 661.78,243.76 662.34,244.13 662.90,244.49 663.45,244.83 664.01,245.15 664.57,245.46 665.12,245.75 665.68,246.03 666.23,246.29 666.79,246.54 667.35,246.78 667.90,247.01 668.46,247.22 669.02,247.42 669.57,247.62 670.13,247.80 670.69,247.97 671.24,248.13 671.80,248.28" fill="none" stroke="#a3418d" stroke-width="3.4" stroke-linejoin="round"/>
<rect x="438.1" y="5.4" width="244.2" height="251.3" fill="none" stroke="#2e2e2e" stroke-width="1.6"/>
<g stroke="#000" stroke-width="1.7">
<line x1="432.5" y1="250.30" x2="438.5" y2="250.30"/>
<line x1="432.5" y1="176.47" x2="438.5" y2="176.47"/>
<line x1="432.5" y1="102.63" x2="438.5" y2="102.63"/>
<line x1="432.5" y1="28.80" x2="438.5" y2="28.80"/>
<line x1="449.20" y1="257.2" x2="449.20" y2="261.8"/>
<line x1="504.85" y1="257.2" x2="504.85" y2="261.8"/>
<line x1="560.50" y1="257.2" x2="560.50" y2="261.8"/>
<line x1="616.15" y1="257.2" x2="616.15" y2="261.8"/>
<line x1="671.80" y1="257.2" x2="671.80" y2="261.8"/>
</g>
<text x="430.2" y="256.1" font-size="16" font-weight="bold" text-anchor="end" fill="#000" stroke="#000" stroke-width="0.3" >0.00</text>
<text x="430.2" y="182.27" font-size="16" font-weight="bold" text-anchor="end" fill="#000" stroke="#000" stroke-width="0.3" >0.02</text>
<text x="430.2" y="108.43" font-size="16" font-weight="bold" text-anchor="end" fill="#000" stroke="#000" stroke-width="0.3" >0.04</text>
<text x="430.2" y="34.6" font-size="16" font-weight="bold" text-anchor="end" fill="#000" stroke="#000" stroke-width="0.3" >0.06</text>
<text x="449.2" y="275.6" font-size="16" font-weight="bold" text-anchor="middle" fill="#000" stroke="#000" stroke-width="0.3" >0</text>
<text x="504.85" y="275.6" font-size="16" font-weight="bold" text-anchor="middle" fill="#000" stroke="#000" stroke-width="0.3" >25</text>
<text x="560.5" y="275.6" font-size="16" font-weight="bold" text-anchor="middle" fill="#000" stroke="#000" stroke-width="0.3" >50</text>
<text x="616.15" y="275.6" font-size="16" font-weight="bold" text-anchor="middle" fill="#000" stroke="#000" stroke-width="0.3" >75</text>
<text x="671.8" y="275.6" font-size="16" font-weight="bold" text-anchor="middle" fill="#000" stroke="#000" stroke-width="0.3" >100</text>
<rect x="658.46" y="273.62" width="3.73" height="3.03" fill="#fff"/>
<rect x="664.38" y="273.62" width="3.12" height="3.03" fill="#fff"/>
<text x="565.7" y="296" font-size="16.8" font-weight="bold" text-anchor="middle" fill="#000" stroke="#000" stroke-width="0.3" >Repetive content (%)</text>
<text transform="translate(392.5,140) rotate(-90)" font-size="16" font-weight="bold" text-anchor="middle" stroke="#000" stroke-width="0.3">Density</text>
<text x="384.0" y="11.8" font-size="23" font-weight="normal" text-anchor="start" fill="#000" stroke="#000" stroke-width="0.45">c</text>
<rect x="451" y="33.0" width="3" height="14.5" fill="#dcdcdc"/>
<text x="462.3" y="44.3" font-size="12.4" font-weight="normal" text-anchor="start" fill="#1a1a1a" >Other</text>
<rect x="451" y="51.3" width="3" height="14.5" fill="#f0bd4c"/>
<text x="462.3" y="62.6" font-size="12.4" font-weight="normal" text-anchor="start" fill="#1a1a1a" >Octaploid</text>
<rect x="451" y="69.6" width="3" height="14.5" fill="#c2c032"/>
<text x="462.3" y="80.9" font-size="12.4" font-weight="normal" text-anchor="start" fill="#1a1a1a" >Hexaploid</text>
<rect x="451" y="87.9" width="3" height="14.5" fill="#868338"/>
<text x="462.3" y="99.2" font-size="12.4" font-weight="normal" text-anchor="start" fill="#1a1a1a" >Tetraploid</text>
<rect x="451" y="106.2" width="3" height="14.5" fill="#8dc863"/>
<text x="462.3" y="117.5" font-size="12.4" font-weight="normal" text-anchor="start" fill="#1a1a1a" >Triploid</text>
<rect x="451" y="124.5" width="3" height="14.5" fill="#a3418d"/>
<text x="462.3" y="135.8" font-size="12.4" font-weight="normal" text-anchor="start" fill="#1a1a1a" >Diploid</text>
</svg>
</body></html>
